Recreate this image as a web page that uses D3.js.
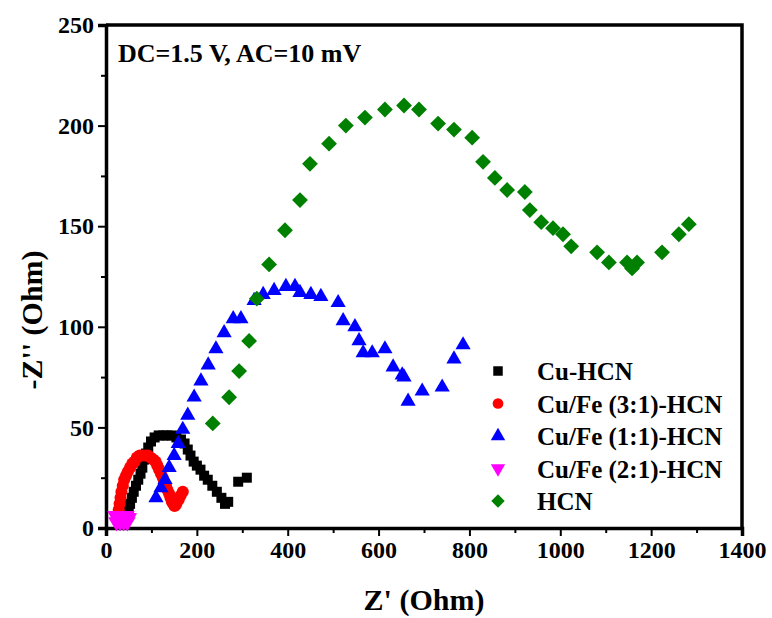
<!DOCTYPE html>
<html>
<head>
<meta charset="utf-8">
<style>
  body { margin: 0; background: #fff; }
  text { font-family: "Liberation Serif", "Times New Roman", serif; font-weight: bold; }
</style>
<script src="https://d3js.org/d3.v7.min.js"></script>
</head>
<body>
<svg width="772" height="618"></svg>
<script>
// data: [Z', -Z'']
var cuHCN = [[50,9],[53,12],[57,15],[61,18],[66,21],[71,24],[76,27],[80,30],[84,34],[88,37],[93,40],[99,43],[107,45],[116,46],[126,46],[135,46],[145,46],[155,45],[165,44],[173,42],[180,39],[186,36],[193,33],[200,31],[208,29],[216,26],[224,24],[234,21],[244,18],[254,15],[262,12],[269,13],[291,23],[310,25]];
var cuFe31 = [[27,6],[28,9],[30,12],[32,15],[34,18],[37,21],[40,24],[44,26],[48,28],[53,30],[58,32],[63,33],[68,35],[74,36],[80,36],[86,36],[92,36],[98,35],[104,34],[109,33],[113,31],[117,29],[121,27],[125,25],[128,23],[132,21],[135,19],[139,17],[142,15],[145,13],[148,12],[151,11],[155,12],[160,14],[164,16],[169,18]];
var cuFe11 = [[110,15],[121,20],[130,24],[139,30],[150,36],[159,42],[169,49],[180,56],[194,65],[209,73],[225,81],[242,89],[260,97],[280,104],[297,104],[326,113],[346,116],[370,118],[396,120],[416,120],[427,117],[451,116],[473,115],[511,112],[522,103],[548,100],[557,93],[566,87],[586,87],[614,89],[632,80],[652,76],[656,75],[665,63],[696,68],[740,70],[766,84],[786,91]];
var cuFe21 = [[21,6],[24,6],[27,6],[30,6],[33,6],[36,6],[39,6],[42,6],[45,6],[48,5],[50,5],[23,3],[31,3],[39,3],[47,3]];
var hcn = [[235,52],[271,65],[293,78],[315,93],[332,114],[359,131],[394,148],[427,163],[449,181],[491,191],[528,200],[570,204],[614,208],[656,210],[689,208],[731,201],[766,198],[806,194],[830,182],[856,174],[883,168],[922,167],[933,158],[958,152],[984,149],[1006,146],[1024,140],[1081,137],[1107,132],[1147,132],[1158,129],[1169,132],[1224,137],[1261,146],[1283,151]];

var seriesNames = ["Cu-HCN", "Cu/Fe (3:1)-HCN", "Cu/Fe (1:1)-HCN", "Cu/Fe (2:1)-HCN", "HCN"];
var seriesColors = ["#000000", "#ff0000", "#0000ff", "#ff00ff", "#008000"];
var xTicks = [0, 200, 400, 600, 800, 1000, 1200, 1400];
var yTicks = [0, 50, 100, 150, 200, 250];

var svg = d3.select("svg"),
    marginLeft = 106, marginTop = 25,
    width = 636, height = 503;

var x = d3.scaleLinear().domain([0, 1400]).range([0, width]),
    y = d3.scaleLinear().domain([0, 250]).range([height, 0]);

var g = svg.append("g").attr("transform", "translate(" + marginLeft + "," + marginTop + ")");

// minor ticks
g.append("g")
  .attr("class", "minor")
  .attr("transform", "translate(0," + height + ")")
  .call(d3.axisBottom(x).tickValues(d3.range(100, 1400, 200)).tickSize(5).tickFormat(""));
g.append("g")
  .attr("class", "minor")
  .call(d3.axisLeft(y).tickValues(d3.range(25, 250, 50)).tickSize(5).tickFormat(""));

var xAxis = g.append("g")
  .attr("transform", "translate(0," + height + ")")
  .call(d3.axisBottom(x).tickValues(xTicks).tickSize(8).tickPadding(5).tickFormat(d3.format("d")));
var yAxis = g.append("g")
  .call(d3.axisLeft(y).tickValues(yTicks).tickSize(8).tickPadding(4).tickFormat(d3.format("d")));

g.selectAll(".minor path").remove();
g.selectAll(".tick line").attr("stroke", "#000").attr("stroke-width", 2);
g.selectAll(".domain").attr("stroke-width", 3.5);
g.selectAll(".tick text")
  .attr("font-size", "24px")
  .attr("font-family", "Liberation Serif")
  .attr("font-weight", "bold")
  .attr("fill", "#000");

// frame top and right
g.append("path")
  .attr("d", "M0,0H" + width + "V" + height)
  .attr("fill", "none").attr("stroke", "#000").attr("stroke-width", 3.5);

var symbols = [d3.symbolSquare, d3.symbolCircle, d3.symbolTriangle, d3.symbolTriangle, d3.symbolSquare];
var sizes = [100, 115, 100, 120, 125];
var rotate = [0, 0, 0, 180, 45];
var allData = [cuHCN, cuFe31, cuFe11, cuFe21, hcn];

allData.forEach(function(data, i) {
  g.append("g").selectAll("path")
    .data(data)
    .enter().append("path")
    .attr("d", d3.symbol().type(symbols[i]).size(sizes[i]))
    .attr("transform", function(d) { return "translate(" + x(d[0]) + "," + y(d[1]) + ") rotate(" + rotate[i] + ")"; })
    .attr("fill", seriesColors[i]);
});

// legend
var legend = svg.append("g").attr("transform", "translate(498,371)");
seriesNames.forEach(function(name, i) {
  legend.append("path")
    .attr("d", d3.symbol().type(symbols[i]).size(90))
    .attr("transform", "translate(0," + (i * 32.5) + ") rotate(" + rotate[i] + ")")
    .attr("fill", seriesColors[i]);
  legend.append("text")
    .attr("x", 39).attr("y", i * 32.5 + 9)
    .attr("font-size", "25px")
    .text(name);
});

// annotation
svg.append("text")
  .attr("x", 118).attr("y", 62)
  .attr("font-size", "26px")
  .text("DC=1.5 V, AC=10 mV");

// axis titles
svg.append("text")
  .attr("x", marginLeft + width / 2).attr("y", 610)
  .attr("text-anchor", "middle")
  .attr("font-size", "30px")
  .text("Z' (Ohm)");
svg.append("text")
  .attr("transform", "translate(42,320) rotate(-90)")
  .attr("text-anchor", "middle")
  .attr("font-size", "30px")
  .text("-Z'' (Ohm)");
</script>
</body>
</html>
